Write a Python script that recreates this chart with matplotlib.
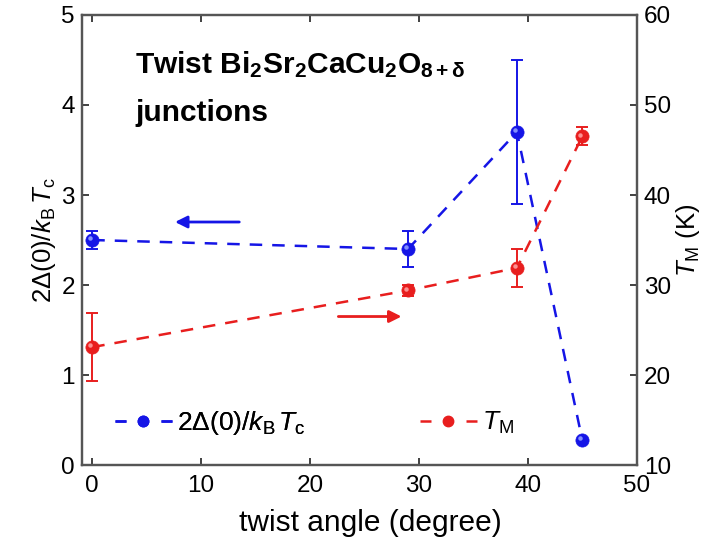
import matplotlib
matplotlib.use("Agg")
import matplotlib.pyplot as plt
import matplotlib.transforms as mtransforms
from matplotlib.lines import Line2D
from matplotlib.legend_handler import HandlerBase

plt.rcParams['font.family'] = ['Liberation Sans', 'DejaVu Sans']
plt.rcParams['mathtext.fontset'] = 'custom'
plt.rcParams['mathtext.rm'] = 'Liberation Sans'
plt.rcParams['mathtext.it'] = 'Liberation Sans:italic'
plt.rcParams['mathtext.bf'] = 'Liberation Sans:bold'

# twist angle (degree)
angle = [0, 29, 39, 45]
# 2Δ(0)/kBTc with error
gap_ratio = [2.5, 2.4, 3.7, 0.28]
gap_err = [0.1, 0.2, 0.8, 0.0]
# T_M (K) with error
t_m = [23.1, 29.4, 31.9, 46.5]
t_m_err = [3.8, 0.6, 2.1, 1.0]

x_ticks = [0, 10, 20, 30, 40, 50]
left_ticks = [0, 1, 2, 3, 4, 5]
right_ticks = [10, 20, 30, 40, 50, 60]

BLUE = '#1515e6'
RED = '#e81e1e'
LIGHT_BLUE = '#8f9cff'
LIGHT_RED = '#ff9d9d'
SPINE = '#555555'

fig = plt.figure(figsize=(7.08, 5.43), dpi=100)
ax = fig.add_axes([0.1154, 0.1436, 0.7839, 0.8288])
ax2 = ax.twinx()

dash = (5, 4)
ms = 9.5


def sphere(axis, x, y, color, light, size=ms):
    axis.plot(x, y, ls='none', marker='o', ms=size, mfc=color, mec=color,
              mew=0.5, zorder=5)
    off = mtransforms.ScaledTranslation(-1.3 / 72, 1.3 / 72, fig.dpi_scale_trans)
    axis.plot(x, y, ls='none', marker='o', ms=size * 0.34, mfc=light, mec='none',
              zorder=6, transform=axis.transData + off, alpha=0.9)


# gap ratio series (left axis)
ax.plot(angle, gap_ratio, color=BLUE, lw=1.8, dashes=dash, zorder=3)
ax.errorbar(angle, gap_ratio, yerr=gap_err, fmt='none', ecolor=BLUE,
            elinewidth=1.4, capsize=4, capthick=1.4, zorder=4)
sphere(ax, angle, gap_ratio, BLUE, LIGHT_BLUE)

# T_M series (right axis)
ax2.plot(angle, t_m, color=RED, lw=1.8, dashes=dash, zorder=3)
ax2.errorbar(angle, t_m, yerr=t_m_err, fmt='none', ecolor=RED,
             elinewidth=1.4, capsize=4, capthick=1.4, zorder=4)
sphere(ax2, angle, t_m, RED, LIGHT_RED)

ax.set_xlim(-0.97, 50)
ax.set_ylim(0, 5)
ax2.set_ylim(10, 60)
ax.set_xticks(x_ticks)
ax.set_yticks(left_ticks)
ax2.set_yticks(right_ticks)

tfs = 17.5
ax.tick_params(axis='both', direction='in', length=5, width=1.3, color='#333333',
               labelsize=tfs, top=True, pad=5)
ax.tick_params(axis='x', pad=7)
ax2.tick_params(axis='y', direction='in', length=5, width=1.3, color='#333333',
                labelsize=tfs, pad=5)
for a in (ax, ax2):
    for s in a.spines.values():
        s.set_color(SPINE)
        s.set_linewidth(1.6)

ax.set_xlabel('twist angle (degree)', fontsize=21.5, labelpad=9)
ax.xaxis.label.set_x(0.521)
ax.set_ylabel(r'2$\Delta$(0)/$k_\mathrm{B}\,T_\mathrm{c}$', fontsize=18.5, labelpad=2)
ax2.set_ylabel(r'$T_\mathrm{M}$ (K)', fontsize=18.5, labelpad=2)

# axis-direction arrows
ax.annotate('', xy=(7.6, 2.7), xytext=(13.5, 2.7),
            arrowprops=dict(arrowstyle='-|>', color=BLUE, lw=2,
                            mutation_scale=18, shrinkA=0, shrinkB=0))
ax.annotate('', xy=(28.4, 1.65), xytext=(22.6, 1.65),
            arrowprops=dict(arrowstyle='-|>', color=RED, lw=2,
                            mutation_scale=18, shrinkA=0, shrinkB=0))

# sample description
ax.text(0.096, 0.889,
        r'Twist Bi$_\mathbf{2}$Sr$_\mathbf{2}$CaCu$_\mathbf{2}$O$_{\mathbf{8+\delta}}$',
        transform=ax.transAxes, fontsize=21.5, fontweight='bold', va='center')
ax.text(0.096, 0.782, 'junctions', transform=ax.transAxes, fontsize=21.5,
        fontweight='bold', va='center')


class DashSphereHandler(HandlerBase):
    """Legend key drawn as: short dash, sphere, short dash."""

    def create_artists(self, legend, orig_handle, xdescent, ydescent,
                       width, height, fontsize, trans):
        color = orig_handle.get_color()
        y = height / 2 - ydescent
        x0 = -xdescent
        seg = width * 0.19
        left = Line2D([x0, x0 + seg], [y, y], color=color, lw=1.8,
                      solid_capstyle='butt')
        right = Line2D([x0 + width - seg, x0 + width], [y, y], color=color,
                       lw=1.8, solid_capstyle='butt')
        ball = Line2D([x0 + width / 2], [y], ls='none', marker='o', ms=7.5,
                      mfc=color, mec=color)
        arts = [left, right, ball]
        for a in arts:
            a.set_transform(trans)
        return arts


lfs = 19
leg_kw = dict(loc='center left', frameon=False, fontsize=lfs, handlelength=2.15,
              handletextpad=0.2, borderpad=0, borderaxespad=0,
              handler_map={Line2D: DashSphereHandler()})
leg1 = ax.legend([Line2D([], [], color=BLUE)],
                 [r'2$\Delta$(0)/$k_\mathrm{B}\,T_\mathrm{c}$'],
                 bbox_to_anchor=(0.060, 0.0935), **leg_kw)
ax.add_artist(leg1)
ax2.legend([Line2D([], [], color=RED)], [r'$T_\mathrm{M}$'],
           bbox_to_anchor=(0.6096, 0.0935), **leg_kw)

fig.savefig('out.png', dpi=100)
